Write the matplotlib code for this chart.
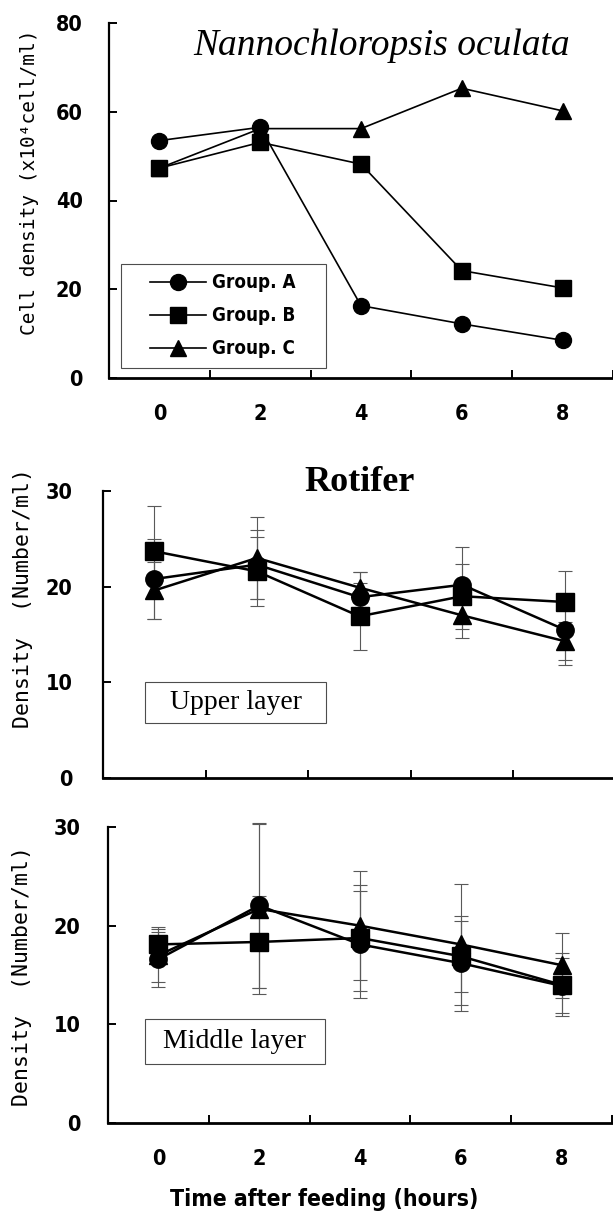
import matplotlib
matplotlib.use("Agg")
import matplotlib.pyplot as plt
from matplotlib import font_manager
from matplotlib.font_manager import FontProperties
from matplotlib.patches import Rectangle

# ---- data ----
hours = [0, 2, 4, 6, 8]

# Nannochloropsis oculata cell density (x10^4 cell/ml)
cell_a = [53.5, 56.5, 16.3, 12.2, 8.5]
cell_b = [47.3, 53.1, 48.2, 24.2, 20.3]
cell_c = [47.3, 56.2, 56.2, 65.3, 60.2]

# Rotifer density, upper layer (number/ml) with error bars
upper_a = [20.8, 22.3, 18.9, 20.2, 15.5]
upper_a_err = [4.2, 3.6, 2.6, 3.9, 3.7]
upper_b = [23.7, 21.6, 16.9, 19.0, 18.4]
upper_b_err = [4.7, 3.6, 3.5, 3.4, 3.25]
upper_c = [19.6, 23.0, 19.9, 17.0, 14.3]
upper_c_err = [3.0, 4.3, 1.6, 2.35, 2.0]

# Rotifer density, middle layer (number/ml) with error bars
middle_a = [16.6, 22.05, 18.1, 16.2, 13.9]
middle_a_err = [2.8, 8.35, 5.4, 4.8, 2.8]
middle_b = [18.1, 18.35, 18.75, 16.9, 14.0]
middle_b_err = [1.8, 4.65, 5.4, 3.6, 3.2]
middle_c = [17.0, 21.7, 20.0, 18.1, 16.0]
middle_c_err = [2.7, 8.6, 5.5, 6.1, 3.3]

group_labels = ["Group. A", "Group. B", "Group. C"]
group_markers = ["o", "s", "^"]


def pick_font(candidates):
    names = {f.name for f in font_manager.fontManager.ttflist}
    for c in candidates:
        if c in names:
            return c
    return "DejaVu Sans"


def find_condensed_bold():
    """Look for any installed condensed bold face (the original uses one)."""
    for f in font_manager.fontManager.ttflist:
        w = f.weight
        if isinstance(w, str):
            w = font_manager.weight_dict.get(w, 400)
        if (str(f.stretch) in ("condensed", "semi-condensed", "extra-condensed")
                and w >= 600 and f.style == "normal"):
            return f.fname
    return None


cond_path = find_condensed_bold()
if cond_path:
    def narrow_fp(size):
        return FontProperties(fname=cond_path, size=size)
    tick_size, legend_size, xlabel_size = 15.5, 13.5, 16.5
else:
    def narrow_fp(size):
        return FontProperties(family="DejaVu Sans", weight="bold", size=size)
    tick_size, legend_size, xlabel_size = 14, 11.5, 15

mono = pick_font(["DejaVu Sans Mono", "Liberation Mono"])
serif = pick_font(["Liberation Serif", "DejaVu Serif"])

W, H = 613, 1215
fig = plt.figure(figsize=(W / 100, H / 100), dpi=100)


def px_axes(left, top, right, bottom):
    return fig.add_axes([left / W, 1 - bottom / H, (right - left) / W, (bottom - top) / H])


def style_axes(ax, ymax, ystep, show_xlabels, ypad):
    ax.set_xlim(-1, 9)
    ax.set_ylim(0, ymax)
    for s in ["top", "right"]:
        ax.spines[s].set_visible(False)
    ax.spines["left"].set_linewidth(1.6)
    ax.spines["bottom"].set_linewidth(2.0)
    ax.set_yticks(range(0, ymax + 1, ystep))
    ax.set_xticks(hours)
    ax.set_xticks([1, 3, 5, 7, 9], minor=True)
    ax.tick_params(axis="x", which="major", length=0, pad=19,
                   labelbottom=show_xlabels)
    ax.tick_params(axis="x", which="minor", direction="in", length=6, width=1.4)
    ax.tick_params(axis="y", direction="in", length=6, width=1.4, pad=ypad)
    for lab in ax.get_xticklabels() + ax.get_yticklabels():
        lab.set_fontproperties(narrow_fp(tick_size))


def draw_series(ax, series, errs, ms, lw):
    handles = []
    for vals, err, mk, lab in zip(series, errs, group_markers, group_labels):
        if err is not None:
            eb = ax.errorbar(hours, vals, yerr=err, fmt="none", ecolor="0.35",
                             elinewidth=0.8, capsize=5, capthick=0.8, zorder=2)
            for art in eb.lines[1] + eb.lines[2]:
                art.set_clip_on(False)
        h, = ax.plot(hours, vals, color="black", lw=lw, marker=mk,
                     markersize=ms, markerfacecolor="black",
                     markeredgecolor="black", label=lab, zorder=3,
                     clip_on=False)
        handles.append(h)
    return handles


def set_ylabel(ax, text, size, x, y):
    ax.set_ylabel(text, fontfamily=mono, fontsize=size)
    ax.yaxis.label.set_verticalalignment("center")
    ax.yaxis.set_label_coords(x, y)


# ---- top: Nannochloropsis oculata ----
ax1 = px_axes(109, 23, 613, 378)
hs = draw_series(ax1, [cell_a, cell_b, cell_c], [None, None, None], 11.5, 1.2)
style_axes(ax1, 80, 20, True, 19)
set_ylabel(ax1, "Cell density (x10\u2074cell/ml)", 14, -0.157, 0.552)
ax1.text(0.54, 0.935, "Nannochloropsis oculata", transform=ax1.transAxes,
         ha="center", va="center", fontfamily=serif, style="italic",
         fontsize=27)
ax1.add_patch(Rectangle((0.024, 0.028), 0.407, 0.293, transform=ax1.transAxes,
                        fill=False, edgecolor="0.3", lw=0.8, zorder=1))
leg = ax1.legend(handles=hs, loc="center left", bbox_to_anchor=(0.081, 0.175),
                 borderaxespad=0, borderpad=0, frameon=False,
                 handlelength=3.0, handletextpad=0.3, labelspacing=0.75,
                 prop=narrow_fp(legend_size))

# ---- middle: Rotifer, upper layer ----
ax2 = px_axes(103, 491, 616, 778)
draw_series(ax2, [upper_a, upper_b, upper_c],
            [upper_a_err, upper_b_err, upper_c_err], 12.5, 1.8)
style_axes(ax2, 30, 10, False, 22)
set_ylabel(ax2, "Density  (Number/ml)", 15.5, -0.156, 0.627)
ax2.text(0.5, 1.03, "Rotifer", transform=ax2.transAxes, ha="center",
         va="center", fontfamily=serif, fontweight="bold", fontsize=26)
ax2.add_patch(Rectangle((0.082, 0.192), 0.353, 0.143, transform=ax2.transAxes,
                        fill=False, edgecolor="0.3", lw=0.8))
ax2.text(0.2585, 0.2635, "Upper layer", transform=ax2.transAxes, ha="center",
         va="center", fontfamily=serif, fontsize=20)

# ---- bottom: Rotifer, middle layer ----
ax3 = px_axes(108, 827, 612, 1123)
draw_series(ax3, [middle_a, middle_b, middle_c],
            [middle_a_err, middle_b_err, middle_c_err], 12.5, 1.8)
style_axes(ax3, 30, 10, True, 20)
set_ylabel(ax3, "Density  (Number/ml)", 15.5, -0.171, 0.497)
ax3.set_xlabel("Time after feeding (hours)", fontproperties=narrow_fp(xlabel_size))
ax3.xaxis.label.set_verticalalignment("center")
ax3.xaxis.set_label_coords(0.429, -0.26)
ax3.add_patch(Rectangle((0.073, 0.199), 0.357, 0.152, transform=ax3.transAxes,
                        fill=False, edgecolor="0.3", lw=0.8))
ax3.text(0.2515, 0.275, "Middle layer", transform=ax3.transAxes, ha="center",
         va="center", fontfamily=serif, fontsize=20)

fig.savefig("out.png", dpi=100)
